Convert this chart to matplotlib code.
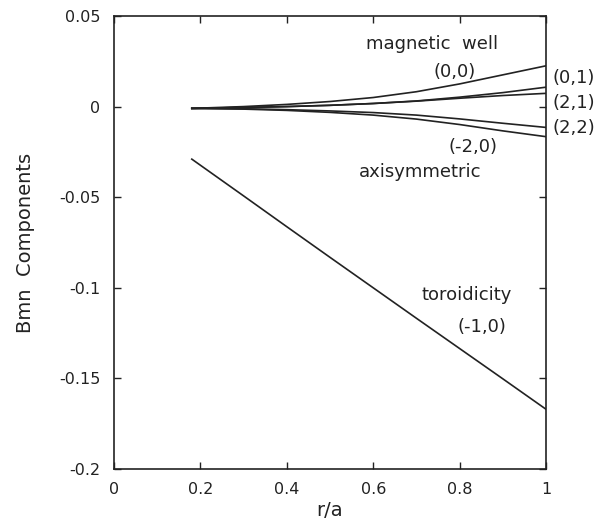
import numpy as np
import matplotlib.pyplot as plt

plt.rcParams['font.family'] = ['DejaVu Sans']
plt.rcParams['axes.unicode_minus'] = False

# radius r/a and the Bmn components
r = [0.18, 0.3, 0.4, 0.5, 0.6, 0.7, 0.8, 0.9, 1.0]
b00 = [-0.001, 0.0, 0.0012, 0.0028, 0.005, 0.0082, 0.0125, 0.0175, 0.0225]
b01 = [-0.001, -0.0005, 0.0, 0.0007, 0.0017, 0.0031, 0.0052, 0.0077, 0.0107]
b21 = [-0.001, -0.0005, 0.0, 0.0007, 0.0017, 0.003, 0.0046, 0.0061, 0.0073]
b22 = [-0.001, -0.0012, -0.0017, -0.0024, -0.0033, -0.0047, -0.0068, -0.0092, -0.0115]
b20 = [-0.001, -0.0014, -0.0021, -0.0032, -0.0047, -0.0069, -0.0099, -0.0134, -0.0166]
b10 = [-0.029, -0.0493, -0.0663, -0.0832, -0.1000, -0.1168, -0.1335, -0.1502, -0.167]

xticks = [0, 0.2, 0.4, 0.6, 0.8, 1]
xlabels = ["0", "0.2", "0.4", "0.6", "0.8", "1"]
yticks = [0.05, 0, -0.05, -0.1, -0.15, -0.2]
ylabels = ["0.05", "0", "-0.05", "-0.1", "-0.15", "-0.2"]

fig = plt.figure(figsize=(6.1, 5.29), dpi=100)
ax = fig.add_axes([0.187, 0.1134, 0.708, 0.8564])

for b in [b00, b01, b21, b22, b20, b10]:
    ax.plot(r, b, color='#222222', lw=1.2)

ax.set_xlim(0, 1)
ax.set_ylim(-0.2, 0.05)
ax.set_xticks(xticks)
ax.set_xticklabels(xlabels)
ax.set_yticks(yticks)
ax.set_yticklabels(ylabels)
ax.tick_params(direction='in', top=True, right=True, length=5, width=1,
               labelsize=11.5, colors='#222222')
ax.tick_params(axis='x', pad=9)
ax.tick_params(axis='y', pad=10)
for s in ax.spines.values():
    s.set_linewidth(1.2)
    s.set_color('#222222')

ax.set_xlabel("r/a", fontsize=14, color='#222222', labelpad=3)
ax.set_ylabel("Bmn  Components", fontsize=14, color='#222222', labelpad=17)

fs = 13
c = '#222222'
ax.text(0.736, 0.0343, "magnetic  well", ha='center', va='center', fontsize=fs, color=c)
ax.text(0.789, 0.0193, "(0,0)", ha='center', va='center', fontsize=fs, color=c)
ax.text(1.015, 0.0156, "(0,1)", ha='left', va='center', fontsize=fs, color=c, clip_on=False)
ax.text(1.015, 0.0018, "(2,1)", ha='left', va='center', fontsize=fs, color=c, clip_on=False)
ax.text(1.015, -0.012, "(2,2)", ha='left', va='center', fontsize=fs, color=c, clip_on=False)
ax.text(0.831, -0.0221, "(-2,0)", ha='center', va='center', fontsize=fs, color=c)
ax.text(0.709, -0.0359, "axisymmetric", ha='center', va='center', fontsize=fs, color=c)
ax.text(0.817, -0.104, "toroidicity", ha='center', va='center', fontsize=fs, color=c)
ax.text(0.851, -0.1215, "(-1,0)", ha='center', va='center', fontsize=fs, color=c)

fig.savefig("out.png", dpi=100)
